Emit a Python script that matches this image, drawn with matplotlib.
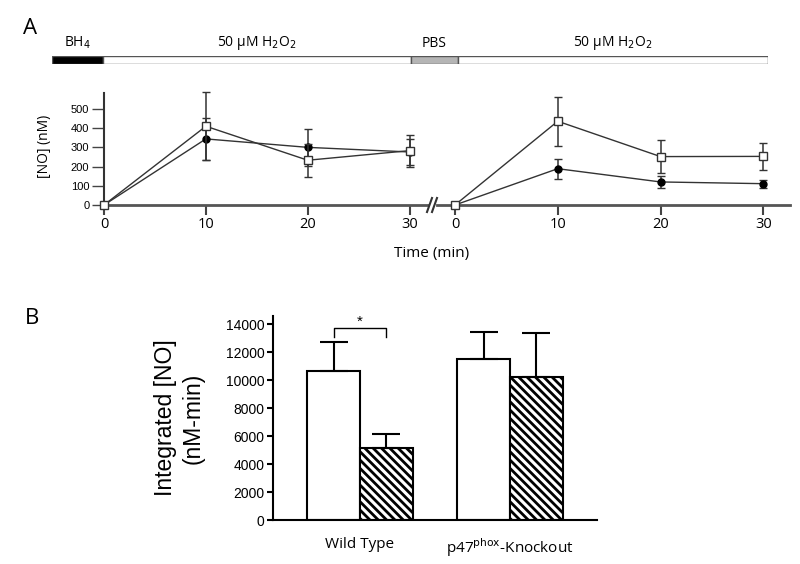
import numpy as np
import matplotlib
matplotlib.use("Agg")
from matplotlib import pyplot as plt
from matplotlib.lines import Line2D

# panel A - NO release over time, two treatment periods
time_min = [0, 10, 20, 30]
first_sq = [0, 410, 233, 283]
first_sq_err = [0, 178, 85, 83]
first_ci = [0, 344, 300, 276]
first_ci_err = [0, 110, 95, 70]
second_sq = [0, 436, 252, 253]
second_sq_err = [0, 128, 88, 70]
second_ci = [0, 189, 120, 111]
second_ci_err = [0, 52, 29, 20]

# treatment timeline above panel A
phase_labels = ["BH$_4$", "50 \u03bcM H$_2$O$_2$", "PBS", "50 \u03bcM H$_2$O$_2$"]
phase_lengths = [51, 308, 47, 310]
phase_colors = ["black", "white", "#b5b5b5", "white"]

# panel B - integrated NO
groups = ["Wild Type", "p47$^{\\mathrm{phox}}$-Knockout"]
ctrl = [10680, 11520]
ctrl_err = [2080, 1940]
treated = [5140, 10200]
treated_err = [1000, 3150]

plt.rcParams['font.family'] = ['Open Sans', 'DejaVu Sans']
plt.rcParams['hatch.linewidth'] = 2
W, H = 800, 564
fig = plt.figure(figsize=(8, 5.64), dpi=100)


def fx(px):
    return px / W


def fy(py):
    return 1 - py / H


fig.text(fx(30), fy(28), "A", fontsize=16, ha='center', va='center')
fig.text(fx(32), fy(318), "B", fontsize=16, ha='center', va='center')

# timeline bar
axT = fig.add_axes([fx(52), fy(63.5), fx(768 - 52), 7 / H])
left = 0
for lab, ln, c in zip(phase_labels, phase_lengths, phase_colors):
    axT.barh(0, ln, left=left, height=1, color=c, edgecolor='#555555', lw=1)
    axT.text(left + ln / 2, 2.4, lab, ha='center', va='center', fontsize=10)
    left += ln
axT.set_xlim(0, sum(phase_lengths))
axT.set_ylim(-0.5, 0.5)
axT.axis('off')

line_c = '#333333'


def draw_series(ax, y_sq, e_sq, y_ci, e_ci):
    ax.errorbar(time_min, y_ci, yerr=e_ci, marker='o', color=line_c, mfc='black',
                mec='black', ms=5, lw=1, elinewidth=1.1, capsize=3, clip_on=False, zorder=3)
    ax.errorbar(time_min, y_sq, yerr=e_sq, marker='s', color=line_c, mfc='white',
                mec=line_c, ms=6, lw=1, elinewidth=1.1, capsize=3, clip_on=False, zorder=4)


axL = fig.add_axes([fx(104), fy(205), fx(428 - 104), 112 / H])
draw_series(axL, first_sq, first_sq_err, first_ci, first_ci_err)
axL.set_xlim(0, 31.8)
axL.set_ylim(0, 583)
axL.set_yticks([0, 100, 200, 300, 400, 500])
axL.set_xticks(time_min)
axL.set_ylabel("[NO] (nM)", fontsize=10)
axL.yaxis.set_label_coords(-0.16, 0.52)

axR = fig.add_axes([fx(437), fy(205), fx(790 - 437), 112 / H])
draw_series(axR, second_sq, second_sq_err, second_ci, second_ci_err)
axR.set_xlim(-1.75, 32.6)
axR.set_ylim(0, 583)
axR.set_yticks([])
axR.set_xticks(time_min)

for ax in (axL, axR):
    for s in ('top', 'right'):
        ax.spines[s].set_visible(False)
    ax.spines['bottom'].set_linewidth(2)
    ax.spines['bottom'].set_color('#555555')
    ax.spines['left'].set_linewidth(1.5)
    ax.spines['left'].set_color('#333333')
    ax.tick_params(axis='x', length=7, width=1.5, color='#444444', labelsize=10.5, pad=2)
    ax.tick_params(axis='y', length=9, width=1, color='#444444', labelsize=8, pad=1.5)
    for lab in ax.get_yticklabels():
        lab.set_family('Liberation Sans')
axR.spines['left'].set_visible(False)

# axis break marks
for off in (0, 5):
    fig.add_artist(Line2D([fx(427 + off), fx(432 + off)], [fy(212), fy(198)],
                          color='#333333', lw=1.5))

fig.text(fx(432), fy(254), "Time (min)", fontsize=11, ha='center', va='center')

# panel B
axB = fig.add_axes([fx(273), fy(520), fx(597 - 273), 204 / H])
pos = np.arange(len(groups))
w = 0.353
axB.bar(pos - w / 2, ctrl, w, color='white', edgecolor='black', lw=1.5,
        yerr=[[0] * len(ctrl), ctrl_err], capsize=10,
        error_kw=dict(elinewidth=1.5, capthick=1.5, ecolor='black'))
axB.bar(pos + w / 2, treated, w, color='white', edgecolor='black', lw=1.5, hatch='\\\\\\\\',
        yerr=[[0] * len(treated), treated_err], capsize=10,
        error_kw=dict(elinewidth=1.5, capthick=1.5, ecolor='black'))
# significance bracket
axB.plot([pos[0] - w / 2, pos[0] - w / 2, pos[0] + w / 2, pos[0] + w / 2],
         [13120, 13760, 13760, 13120], color='black', lw=1)
axB.text(pos[0], 14200, "*", ha='center', va='center', fontsize=11, family='Liberation Sans')

axB.set_xlim(-0.58, 1.58)
axB.set_ylim(0, 14600)
axB.set_yticks(np.arange(0, 14001, 2000))
axB.set_xticks(pos)
axB.set_xticklabels(groups, family='Open Sans', fontsize=11)
for lab in axB.get_yticklabels():
    lab.set_family('Liberation Sans')
axB.tick_params(axis='y', length=4, width=1.5, labelsize=10, pad=2)
axB.tick_params(axis='x', length=0, pad=12)
for s in ('top', 'right'):
    axB.spines[s].set_visible(False)
for s in ('left', 'bottom'):
    axB.spines[s].set_linewidth(1.5)
axB.set_ylabel("Integrated [NO]\n(nM-min)", fontsize=16.5, family='Liberation Sans', linespacing=1.25)
axB.yaxis.set_label_coords(-0.21, 0.5)

fig.savefig("out.png", dpi=100)
